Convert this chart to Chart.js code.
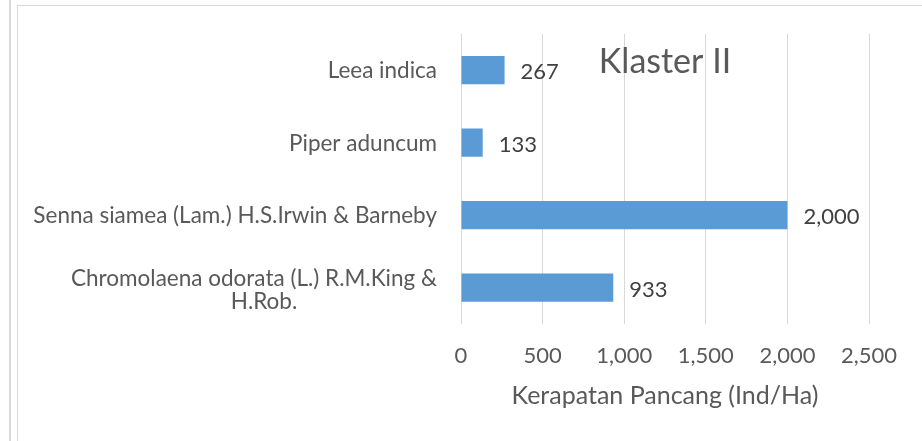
<!DOCTYPE html>
<html lang="id">
<head>
<meta charset="UTF-8">
<title>Klaster II</title>
<script src="https://cdn.jsdelivr.net/npm/chart.js"></script>
<style>
  body { margin: 0; background: #fff; }
  #wrap { position: relative; width: 922px; height: 441px; }
  .ln { position: absolute; background: #d9d9d9; }
  canvas { position: absolute; left: 0; top: 0; }
</style>
</head>
<body>
<div id="wrap">
  <div class="ln" style="left:9px;top:0;width:2px;height:441px;"></div>
  <div class="ln" style="left:17px;top:5px;width:1px;height:436px;"></div>
  <div class="ln" style="left:17px;top:5px;width:905px;height:1px;"></div>
  <canvas id="chart" width="922" height="441"></canvas>
</div>
<script>
  // data
  const species = [
    'Leea indica',
    'Piper aduncum',
    'Senna siamea (Lam.) H.S.Irwin & Barneby',
    ['Chromolaena odorata (L.) R.M.King &', 'H.Rob.']
  ];
  const density = [267, 133, 2000, 933];
  const xTicks = [0, 500, 1000, 1500, 2000, 2500];

  const FONT = 'Lato';
  const fmt = v => Number(v).toLocaleString('en-US');

  // category labels on the left + value labels at the bar ends
  const labelPlugin = {
    id: 'labels',
    afterDraw(chart) {
      const ctx = chart.ctx;
      const yScale = chart.scales.y;
      const right = chart.chartArea.left - 24;
      ctx.save();
      ctx.font = '22.5px ' + FONT;
      ctx.fillStyle = '#595959';
      ctx.textBaseline = 'middle';
      ctx.textAlign = 'center';
      species.forEach((lab, i) => {
        const lines = Array.isArray(lab) ? lab : [lab];
        const w = Math.max(...lines.map(l => ctx.measureText(l).width));
        const lh = 23;
        const cy = yScale.getPixelForTick(i) + (lines.length > 1 ? 3 : 1);
        const y0 = cy - (lines.length - 1) * lh / 2;
        // wrapped lines sit a little right of the block centre, like Excel
        lines.forEach((l, k) => ctx.fillText(l, right - w / 2 + (k ? 10 : 0), y0 + k * lh));
      });
      ctx.font = '22px ' + FONT;
      ctx.fillStyle = '#404040';
      ctx.textAlign = 'left';
      chart.getDatasetMeta(0).data.forEach((bar, i) => {
        ctx.fillText(fmt(density[i]), bar.x + 16, bar.y + 2);
      });
      ctx.restore();
    }
  };

  new Chart(document.getElementById('chart'), {
    type: 'bar',
    data: {
      labels: species,
      datasets: [{
        data: density,
        backgroundColor: '#5b9bd5',
        barPercentage: 0.39,
        categoryPercentage: 1
      }]
    },
    options: {
      indexAxis: 'y',
      responsive: false,
      animation: false,
      layout: { padding: { left: 0, right: 53, top: 5, bottom: 0 } },
      plugins: {
        legend: { display: false },
        tooltip: { enabled: false },
        title: {
          display: true,
          text: 'Klaster II',
          fullSize: false,
          color: '#595959',
          font: { family: FONT, size: 34, weight: 'normal' },
          padding: { top: 37, bottom: -49 }
        }
      },
      scales: {
        x: {
          min: 0,
          max: 2500,
          afterBuildTicks: s => { s.ticks = xTicks.map(v => ({ value: v })); },
          afterFit: s => { s.height = 117; },
          grid: { color: '#d9d9d9', drawTicks: false },
          border: { display: false },
          ticks: {
            padding: 19,
            color: '#595959',
            font: { family: FONT, size: 22 },
            callback: v => fmt(v)
          },
          title: {
            display: true,
            text: 'Kerapatan Pancang (Ind/Ha)',
            color: '#595959',
            font: { family: FONT, size: 25 },
            padding: { top: 0, bottom: 30 }
          }
        },
        y: {
          afterFit: s => { s.width = 461; },
          grid: { display: false },
          border: { display: false },
          ticks: { display: false }
        }
      }
    },
    plugins: [labelPlugin]
  });
</script>
</body>
</html>
